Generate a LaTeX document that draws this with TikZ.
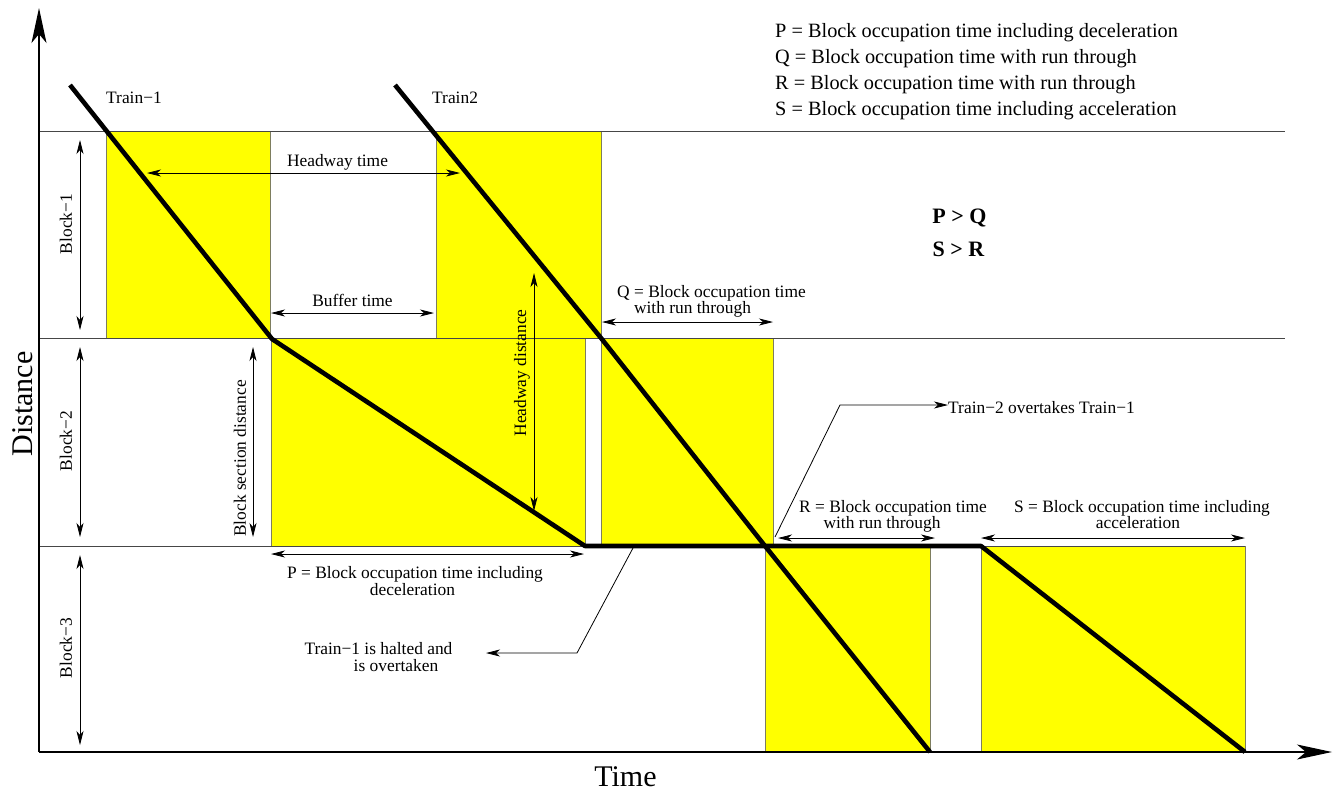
\documentclass[tikz,border=0pt]{standalone}
\usepackage{fontspec}
\setmainfont{Liberation Serif}
\usetikzlibrary{arrows.meta}
\definecolor{occfill}{RGB}{255,255,0}
\definecolor{occedge}{RGB}{125,125,95}
\definecolor{gridline}{RGB}{70,70,70}
\begin{document}
\begin{tikzpicture}[x=1pt,y=-1pt,
  occ/.style={fill=occfill,draw=occedge,line width=1pt},
  blockline/.style={draw=gridline,line width=0.9pt},
  axisline/.style={line width=1.3pt,-{Stealth[length=35pt,width=15pt,inset=9pt]}},
  train/.style={line width=4.6pt,line join=round},
  dim/.style={line width=0.8pt,{Stealth[length=14pt,width=7pt,inset=4pt]}-{Stealth[length=14pt,width=7pt,inset=4pt]}},
  lead/.style={line width=0.8pt,-{Stealth[length=14pt,width=7pt,inset=4pt]}},
  lbl/.style={font=\fontsize{17.4}{20}\selectfont,anchor=base,inner sep=0pt},
  legend/.style={font=\fontsize{20.3}{24}\selectfont,anchor=base west,inner sep=0pt},
  rel/.style={font=\fontsize{22}{26}\selectfont\bfseries,anchor=base,inner sep=0pt},
  axislabel/.style={font=\fontsize{30}{34}\selectfont,inner sep=0pt}
]
\useasboundingbox (0,0) rectangle (1334,790);

% block occupation time windows
\draw[occ] (106,131) rectangle (270,338);
\draw[occ] (436,131) rectangle (601,338);
\draw[occ] (271,338) rectangle (585,546);
\draw[occ] (601,338) rectangle (773,546);
\draw[occ] (765,546) rectangle (930,752);
\draw[occ] (981,546) rectangle (1245,752);

% block boundaries
\draw[blockline] (39,131) -- (1285,131);
\draw[blockline] (39,338) -- (1285,338);
\draw[blockline] (39,546) -- (1245,546);

% axes
\coordinate (O) at (39,752);
\coordinate (ytop) at (39,8);
\coordinate (xend) at (1332,752);
\draw[axisline] (O) -- (ytop);
\draw[axisline] (O) -- (xend);
\node[axislabel,rotate=90] (dist) at (22.5,404) {Distance};
\node[axislabel,anchor=base] (time) at (625.5,786) {Time};

% train paths
\coordinate (t1a) at (70,85);
\coordinate (t1b) at (272,339);
\coordinate (t1c) at (585,546);
\coordinate (t1d) at (981,546);
\coordinate (t1e) at (1245,752);
\coordinate (t2a) at (395,85);
\coordinate (t2b) at (601,338);
\coordinate (t2c) at (765,546);
\coordinate (t2d) at (930,752);
\draw[train] (t1a) -- (t1b) -- (t1c) -- (t1d) -- (t1e);
\draw[train] (t2a) -- (t2b) -- (t2c) -- (t2d);
\node[lbl,anchor=base west] (tr1) at (106,103) {Train−1};
\node[lbl,anchor=base west] (tr2) at (432,103) {Train2};

% block extents
\coordinate (b1t) at (80,140); \coordinate (b1b) at (80,330);
\coordinate (b2t) at (80,347); \coordinate (b2b) at (80,537);
\coordinate (b3t) at (80,555); \coordinate (b3b) at (80,745);
\draw[dim] (b1t) -- (b1b);
\draw[dim] (b2t) -- (b2b);
\draw[dim] (b3t) -- (b3b);
\node[lbl,anchor=center,rotate=90] (blk1) at (66,224) {Block−1};
\node[lbl,anchor=center,rotate=90] (blk2) at (66,441) {Block−2};
\node[lbl,anchor=center,rotate=90] (blk3) at (66,648) {Block−3};

% block section distance
\coordinate (bst) at (253,347); \coordinate (bsb) at (253,537);
\draw[dim] (bst) -- (bsb);
\node[lbl,anchor=center,rotate=90] (bsd) at (240,458.5) {Block section distance};

% headway distance
\coordinate (hdt) at (534,273); \coordinate (hdb) at (534,511);
\draw[dim] (hdt) -- (hdb);
\node[lbl,anchor=center,rotate=90] (hdd) at (522,373) {Headway distance};

% headway time and buffer time
\coordinate (htl) at (147,173); \coordinate (htr) at (460,173);
\draw[dim] (htl) -- (htr);
\node[lbl] (ht) at (337.5,166) {Headway time};
\coordinate (btl) at (271,313); \coordinate (btr) at (434,313);
\draw[dim] (btl) -- (btr);
\node[lbl] (bt) at (352.5,306) {Buffer time};

% Q
\coordinate (ql) at (602,322); \coordinate (qr) at (773,322);
\draw[dim] (ql) -- (qr);
\node[lbl] (q1) at (711.5,297) {Q = Block occupation time};
\node[lbl] (q2) at (692.5,313) {with run through};

% P
\coordinate (pl) at (271,554); \coordinate (pr) at (584,554);
\draw[dim] (pl) -- (pr);
\node[lbl] (p1) at (415,578) {P = Block occupation time including};
\node[lbl] (p2) at (412.5,595) {deceleration};

% R
\coordinate (rl) at (778,538); \coordinate (rr) at (935,538);
\draw[dim] (rl) -- (rr);
\node[lbl] (r1) at (893,512) {R = Block occupation time};
\node[lbl] (r2) at (882,528) {with run through};

% S
\coordinate (sl) at (981,538); \coordinate (sr) at (1245,538);
\draw[dim] (sl) -- (sr);
\node[lbl] (s1) at (1142,512) {S = Block occupation time including};
\node[lbl] (s2) at (1138,528) {acceleration};

% overtaking callouts
\node[lbl,anchor=base west] (ovt) at (948,413) {Train−2 overtakes Train−1};
\coordinate (ov0) at (775,537);
\coordinate (ov1) at (840,405);
\draw[lead] (ov0) -- (ov1) -- (ovt.west |- ov1);
\node[lbl] (h1) at (378.5,654) {Train−1 is halted and};
\node[lbl] (h2) at (396,671) {is overtaken};
\coordinate (hl0) at (633,548);
\coordinate (hl1) at (577,653);
\coordinate (hl2) at (486,653);
\draw[lead] (hl0) -- (hl1) -- (hl2);

% legend
\node[legend] (lgP) at (775,37) {P = Block occupation time including deceleration};
\node[legend] (lgQ) at (775,63) {Q = Block occupation time with run through};
\node[legend] (lgR) at (775,89) {R = Block occupation time with run through};
\node[legend] (lgS) at (775,115) {S = Block occupation time including acceleration};
\node[rel] (pq) at (959.5,223) {P > Q};
\node[rel] (sr) at (958.5,256) {S > R};
\end{tikzpicture}
\end{document}
